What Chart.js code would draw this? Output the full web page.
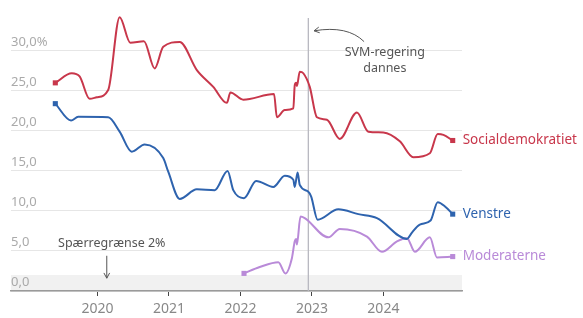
<!DOCTYPE html>
<html>
<head>
<meta charset="utf-8">
<script src="https://cdn.jsdelivr.net/npm/chart.js@4"></script>
<style>
  html, body { margin: 0; padding: 0; background: #fff; }
  canvas { display: block; }
</style>
</head>
<body>
<canvas id="chart" width="583" height="318"></canvas>
<script>
// poll data, decimal years
const sdYears = [2019.41, 2019.64, 2019.75, 2019.89, 2019.99, 2020.15, 2020.31, 2020.46, 2020.65, 2020.80, 2020.92, 2021.15, 2021.39, 2021.62, 2021.81, 2021.86, 2022.04, 2022.47, 2022.51, 2022.62, 2022.74, 2022.76, 2022.78, 2022.79, 2022.83, 2022.88, 2022.97, 2023.07, 2023.21, 2023.39, 2023.63, 2023.79, 2024.00, 2024.23, 2024.42, 2024.65, 2024.76, 2024.84, 2024.97];
const sdValues = [26.0, 27.2, 26.8, 24.0, 24.2, 25.1, 34.2, 31.0, 31.2, 27.8, 30.5, 31.1, 27.6, 25.5, 23.5, 24.8, 23.9, 24.6, 21.7, 22.6, 22.8, 25.7, 26.0, 25.6, 27.4, 27.2, 25.5, 21.7, 21.4, 19.0, 22.3, 19.9, 19.8, 18.7, 16.7, 17.2, 19.6, 19.5, 18.8];

const vYears = [2019.41, 2019.63, 2019.73, 2020.15, 2020.31, 2020.48, 2020.66, 2020.92, 2020.99, 2021.15, 2021.39, 2021.64, 2021.82, 2021.90, 2022.05, 2022.22, 2022.46, 2022.62, 2022.74, 2022.76, 2022.80, 2022.83, 2022.95, 2022.99, 2023.08, 2023.37, 2023.65, 2023.91, 2024.33, 2024.40, 2024.51, 2024.66, 2024.76, 2024.87, 2024.97];
const vValues = [23.4, 21.3, 21.75, 21.7, 19.9, 17.4, 18.3, 16.6, 14.9, 11.5, 12.7, 12.6, 15.0, 12.6, 11.6, 13.75, 13.0, 14.4, 13.9, 13.0, 14.8, 13.25, 12.4, 11.8, 8.9, 10.2, 9.6, 9.1, 6.5, 7.3, 8.3, 8.8, 11.1, 10.5, 9.6];

const mYears = [2022.05, 2022.27, 2022.53, 2022.63, 2022.72, 2022.76, 2022.78, 2022.79, 2022.84, 2022.90, 2023.23, 2023.39, 2023.77, 2023.98, 2024.19, 2024.33, 2024.44, 2024.65, 2024.75, 2024.97];
const mValues = [2.2, 3.0, 3.6, 2.2, 4.1, 6.2, 6.5, 5.8, 9.3, 9.1, 6.7, 7.75, 6.8, 4.9, 6.2, 6.6, 4.9, 6.7, 4.2, 4.3];

const parties = ['Socialdemokratiet', 'Venstre', 'Moderaterne'];
const colors = ['#c8374b', '#2e63ae', '#b98ad8'];
const yearTicks = [2020, 2021, 2022, 2023, 2024];
const valueTicks = [0, 5, 10, 15, 20, 25, 30];
const thresholdValue = 2;
const svmDate = 2022.95;

const FONT = "'Noto Sans', sans-serif";

function toPoints(xs, ys) {
  return xs.map((x, i) => ({ x, y: ys[i] }));
}

function makeSet(label, xs, ys, color) {
  const n = xs.length;
  return {
    label,
    data: toPoints(xs, ys),
    borderColor: color,
    backgroundColor: color,
    borderWidth: 2,
    cubicInterpolationMode: 'monotone',
    pointStyle: 'rect',
    pointRadius: ctx => (ctx.dataIndex === 0 || ctx.dataIndex === n - 1) ? 3.6 : 0,
    pointHoverRadius: 0,
    pointBorderWidth: 0
  };
}

function arrowHead(ctx, x, y, angle, size) {
  ctx.beginPath();
  ctx.moveTo(x + size * Math.cos(angle + 0.5), y + size * Math.sin(angle + 0.5));
  ctx.lineTo(x, y);
  ctx.lineTo(x + size * Math.cos(angle - 0.5), y + size * Math.sin(angle - 0.5));
  ctx.stroke();
}

const overlay = {
  id: 'overlay',
  beforeDraw(chart) {
    const { ctx, chartArea: a, scales: { y } } = chart;
    ctx.save();
    ctx.fillStyle = '#f1f1f1';
    const top = y.getPixelForValue(thresholdValue);
    ctx.fillRect(a.left, top, a.right - a.left, y.getPixelForValue(0) - top);
    ctx.restore();
  },
  beforeDatasetsDraw(chart) {
    const { ctx, scales: { x, y } } = chart;
    const px = x.getPixelForValue(svmDate);
    ctx.save();
    ctx.strokeStyle = '#b8b8c0';
    ctx.lineWidth = 1.3;
    ctx.beginPath();
    ctx.moveTo(px, y.getPixelForValue(34.1));
    ctx.lineTo(px, y.getPixelForValue(0));
    ctx.stroke();
    ctx.restore();
  },
  afterDraw(chart) {
    const { ctx, scales: { x, y } } = chart;
    ctx.save();

    // end labels next to the last point
    ctx.font = '13.5px ' + FONT;
    ctx.textAlign = 'left';
    ctx.textBaseline = 'middle';
    chart.data.datasets.forEach((ds, i) => {
      const last = ds.data[ds.data.length - 1];
      ctx.fillStyle = colors[i];
      ctx.fillText(parties[i], x.getPixelForValue(last.x) + 10, y.getPixelForValue(last.y));
    });

    // annotations
    ctx.fillStyle = '#555';
    ctx.strokeStyle = '#555';
    ctx.lineWidth = 1;
    ctx.font = '12.5px ' + FONT;
    ctx.textAlign = 'center';
    ctx.fillText('Spærregrænse 2%', x.getPixelForValue(2020.2), y.getPixelForValue(5.9));
    const ax = x.getPixelForValue(2020.13);
    const ay1 = y.getPixelForValue(4.4), ay2 = y.getPixelForValue(1.6);
    ctx.beginPath();
    ctx.moveTo(ax, ay1);
    ctx.lineTo(ax, ay2);
    ctx.stroke();
    arrowHead(ctx, ax, ay2, -Math.PI / 2, 6);

    ctx.fillText('SVM-regering', x.getPixelForValue(2024.02), y.getPixelForValue(29.75));
    ctx.fillText('dannes', x.getPixelForValue(2024.02), y.getPixelForValue(27.75));
    const sx = x.getPixelForValue(2023.73), sy = y.getPixelForValue(31.15);
    const ex = x.getPixelForValue(2023.03), ey = y.getPixelForValue(32.5);
    const cx = x.getPixelForValue(2023.5), cy = y.getPixelForValue(33.2);
    ctx.beginPath();
    ctx.moveTo(sx, sy);
    ctx.quadraticCurveTo(cx, cy, ex, ey);
    ctx.stroke();
    arrowHead(ctx, ex, ey, Math.atan2(cy - ey, cx - ex), 6);

    ctx.restore();
  }
};

new Chart(document.getElementById('chart'), {
  type: 'line',
  data: {
    datasets: [
      makeSet(parties[0], sdYears, sdValues, colors[0]),
      makeSet(parties[1], vYears, vValues, colors[1]),
      makeSet(parties[2], mYears, mValues, colors[2])
    ]
  },
  options: {
    responsive: false,
    animation: false,
    layout: { padding: { left: 11, right: 121, top: 14, bottom: 0 } },
    plugins: {
      legend: { display: false },
      tooltip: { enabled: false }
    },
    scales: {
      x: {
        type: 'linear',
        min: 2018.79,
        max: 2025.1,
        afterBuildTicks: s => { s.ticks = yearTicks.map(v => ({ value: v })); },
        afterFit: s => { s.height = 27; },
        grid: { drawOnChartArea: false, drawTicks: true, tickLength: 5, color: '#444', lineWidth: 1 },
        border: { display: true, color: '#9a9a9a', width: 1.5 },
        ticks: {
          color: '#888',
          font: { family: FONT, size: 14 },
          padding: 5,
          callback: v => String(v)
        }
      },
      y: {
        min: 0,
        max: 34.6,
        afterBuildTicks: s => { s.ticks = valueTicks.map(v => ({ value: v })); },
        grid: { color: '#e6e6e6', drawTicks: false, lineWidth: 1 },
        border: { display: false },
        ticks: {
          mirror: true,
          padding: 0,
          labelOffset: -9,
          color: '#aaa',
          font: { family: FONT, size: 13 },
          callback: v => v.toFixed(1).replace('.', ',') + (v === 30 ? '%' : '')
        }
      }
    }
  },
  plugins: [overlay]
});
</script>
</body>
</html>
